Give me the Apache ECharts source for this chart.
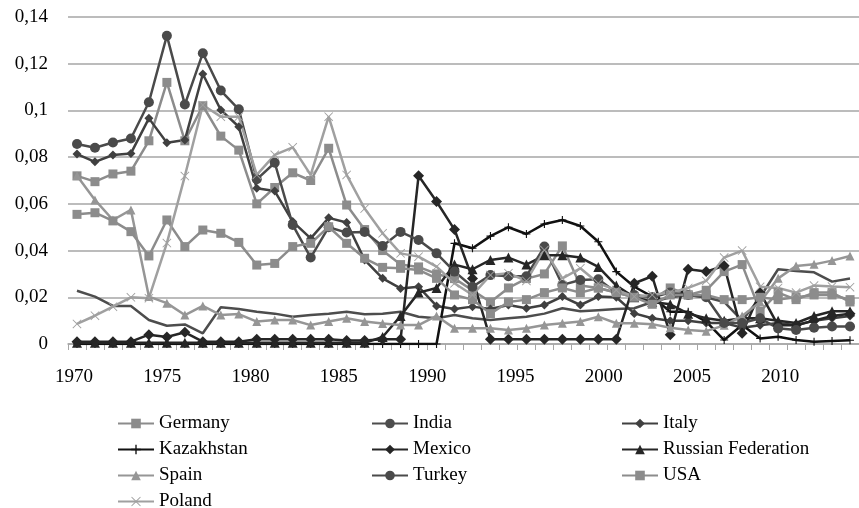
<!DOCTYPE html>
<html>
<head>
<meta charset="utf-8">
<script src="https://cdn.jsdelivr.net/npm/echarts@6/dist/echarts.min.js"></script>
<style>
  html, body { margin: 0; padding: 0; background: #fff; }
  #chart { width: 859px; height: 508px; }
</style>
</head>
<body>
<div id="chart"></div>
<script>
var years = [];
for (var y = 1970; y <= 2013; y++) years.push(String(y));
var tickYears = [1970, 1975, 1980, 1985, 1990, 1995, 2000, 2005, 2010];

var germany = [0.072,0.0695,0.0728,0.074,0.087,0.112,0.087,0.102,0.089,0.083,
  0.060,0.067,0.0733,0.070,0.0838,0.0595,0.049,0.040,0.034,0.033,
  0.030,0.028,0.023,0.018,0.024,0.028,0.030,0.042,0.025,0.024,
  0.022,0.020,0.019,0.024,0.021,0.023,0.031,0.034,0.014,
  0.022,0.019,0.022,0.022,0.018];
var usa = [0.0555,0.0562,0.0527,0.0481,0.0377,0.0531,0.0417,0.0488,0.0474,0.0435,
  0.0338,0.0345,0.0417,0.0431,0.0502,0.0431,0.0367,0.0328,0.0324,0.0317,
  0.0281,0.021,0.019,0.013,0.018,0.019,0.022,0.024,0.022,0.024,
  0.022,0.020,0.017,0.021,0.021,0.021,0.019,0.019,0.020,
  0.019,0.020,0.021,0.021,0.019];
var india = [0.0228,0.0203,0.0163,0.0163,0.0103,0.0078,0.0084,0.0046,0.0157,0.015,
  0.0138,0.013,0.0117,0.0124,0.013,0.0138,0.0127,0.013,0.0138,0.0117,
  0.011,0.0124,0.011,0.0103,0.011,0.0117,0.013,0.0153,0.014,0.0145,
  0.015,0.0153,0.018,0.020,0.021,0.020,0.018,0.010,0.020,
  0.032,0.0313,0.0307,0.0267,0.028];
var italy = [0.0813,0.078,0.0809,0.0816,0.0966,0.0862,0.0873,0.1156,0.1002,0.093,
  0.0667,0.0655,0.0524,0.0452,0.054,0.052,0.036,0.0281,0.0238,0.0245,
  0.0163,0.015,0.016,0.015,0.0167,0.0153,0.0167,0.0203,0.0167,0.0203,
  0.020,0.0131,0.011,0.010,0.010,0.009,0.009,0.007,0.008,
  0.009,0.008,0.010,0.011,0.012];
var kazakhstan = [0,0,0,0,0,0,0,0,0,0,
  0,0,0,0,0,0,0,0,0,0,
  0,0.0431,0.041,0.0462,0.050,0.0471,0.0514,0.0531,0.0505,0.0438,
  0.031,0.0245,0.0203,0.0138,0.0138,0.0096,0.0017,0.0081,0.0024,
  0.0031,0.0017,0.001,0.0013,0.0016];
var mexico = [0.001,0.001,0.001,0.001,0.004,0.003,0.005,0.001,0.001,0.001,
  0.002,0.002,0.002,0.002,0.002,0.0015,0.0015,0.002,0.002,0.072,
  0.061,0.049,0.028,0.002,0.002,0.002,0.002,0.002,0.002,0.002,
  0.002,0.026,0.029,0.004,0.032,0.031,0.0335,0.0046,0.022,
  0.008,0.008,0.010,0.012,0.013];
var russia = [0.0005,0.0005,0.0005,0.0005,0.0005,0.0005,0.0005,0.0005,0.0005,0.0005,
  0.0005,0.0005,0.0005,0.0005,0.0005,0.0005,0.0005,0.003,0.012,0.022,
  0.024,0.034,0.032,0.036,0.037,0.034,0.038,0.038,0.037,0.033,
  0.025,0.020,0.018,0.017,0.013,0.011,0.010,0.011,0.011,
  0.010,0.009,0.012,0.014,0.014];
var spain = [0.072,0.0617,0.0531,0.0574,0.0203,0.0175,0.0124,0.0163,0.0124,0.0128,
  0.0096,0.0103,0.0103,0.0081,0.0096,0.011,0.0096,0.0088,0.0081,0.0081,
  0.012,0.0067,0.0067,0.0067,0.006,0.0067,0.0081,0.0089,0.0096,0.0117,
  0.0089,0.0089,0.0085,0.007,0.006,0.0055,0.008,0.012,0.018,
  0.0281,0.0334,0.0341,0.0357,0.0377];
var turkey = [0.0856,0.084,0.0863,0.088,0.1035,0.132,0.1025,0.1245,0.1085,0.1005,
  0.0705,0.0776,0.051,0.037,0.050,0.0477,0.048,0.042,0.048,0.0445,
  0.0388,0.031,0.0245,0.0295,0.029,0.029,0.0417,0.0253,0.0274,0.0277,
  0.022,0.021,0.020,0.022,0.021,0.020,0.009,0.009,0.011,
  0.0067,0.006,0.007,0.0075,0.0075];
var poland = [0.0086,0.0121,0.016,0.020,0.0196,0.0432,0.0719,0.1023,0.0973,0.0973,
  0.0724,0.081,0.0842,0.0724,0.0973,0.0724,0.058,0.0474,0.0388,0.0374,
  0.0331,0.026,0.021,0.0295,0.0303,0.027,0.0402,0.0281,0.0324,0.026,
  0.0231,0.0203,0.021,0.022,0.024,0.027,0.037,0.040,0.0245,
  0.024,0.022,0.025,0.0246,0.0243];

var plusSym = 'path://M4.3,0H5.7V4.3H10V5.7H5.7V10H4.3V5.7H0V4.3H4.3Z';
var starSym = 'path://M0.7,0L5,4.3L9.3,0L10,0.7L5.7,5L10,9.3L9.3,10L5,5.7L0.7,10L0,9.3L4.3,5L0,0.7Z';

function line(name, data, color, symbol, size) {
  return {
    name: name,
    type: 'line',
    data: data,
    symbol: symbol,
    symbolSize: size,
    showSymbol: symbol !== 'none',
    color: color,
    lineStyle: { width: 2.5, color: color },
    itemStyle: { color: color },
    emphasis: { disabled: true }
  };
}

// one legend per entry so the three columns line up like the original
var legendPos = [
  ['Germany', 112, 409], ['India', 366, 409], ['Italy', 616, 409],
  ['Kazakhstan', 112, 435], ['Mexico', 366, 435], ['Russian Federation', 616, 435],
  ['Spain', 112, 461], ['Turkey', 366, 461], ['USA', 616, 461],
  ['Poland', 112, 487]
];
var textFont = { fontFamily: 'Liberation Serif', fontSize: 19, color: '#000' };
var legends = legendPos.map(function (p) {
  return { left: p[1], top: p[2], itemWidth: 36, itemHeight: 12, itemGap: 5,
    textStyle: textFont, data: [p[0]] };
});

// plot area: 44 yearly slots of ~18 px starting at x=68
var gridLeft = 68, gridWidth = 794;
// the year labels of the original sit on a slightly tighter scale than the points
var labelPx = 17.725, firstLabelX = 74;
var labelMin = tickYears[0] - (firstLabelX - gridLeft) / labelPx;
var labelMax = labelMin + gridWidth / labelPx;

var chart = echarts.init(document.getElementById('chart'));
chart.setOption({
  animation: false,
  grid: { left: gridLeft, top: 17, width: gridWidth, height: 327 },
  legend: legends,
  xAxis: [
    {
      type: 'category',
      data: years,
      boundaryGap: true,
      axisLine: { lineStyle: { color: '#a6a6a6', width: 1.5 } },
      axisTick: { show: true, interval: 0, length: 6, lineStyle: { color: '#a6a6a6' } },
      axisLabel: { show: false },
      splitLine: { show: false }
    },
    {
      type: 'value',
      position: 'bottom',
      min: labelMin,
      max: labelMax,
      axisLine: { show: false },
      axisTick: { show: false },
      splitLine: { show: false },
      axisLabel: {
        customValues: tickYears, margin: 24,
        fontFamily: 'Liberation Serif', fontSize: 19, color: '#000',
        formatter: function (v) { return String(Math.round(v)); }
      }
    }
  ],
  yAxis: {
    type: 'value',
    min: 0,
    max: 0.14,
    interval: 0.02,
    axisLine: { show: false },
    axisTick: { show: false },
    axisLabel: {
      margin: 20, fontFamily: 'Liberation Serif', fontSize: 19, color: '#000',
      formatter: function (v) { return String(+v.toFixed(2)).replace('.', ','); }
    },
    splitLine: { lineStyle: { color: '#a6a6a6', width: 1.5 } }
  },
  series: [
    line('Germany', germany, '#8c8c8c', 'rect', 9),
    line('India', india, '#4d4d4d', 'none', 0),
    line('Italy', italy, '#404040', 'diamond', 9),
    line('Kazakhstan', kazakhstan, '#111111', plusSym, 8),
    line('Mexico', mexico, '#262626', 'diamond', 11),
    line('Russian Federation', russia, '#262626', 'triangle', 10),
    line('Spain', spain, '#969696', 'triangle', 9),
    line('Turkey', turkey, '#4a4a4a', 'circle', 10),
    line('USA', usa, '#8c8c8c', 'rect', 9),
    line('Poland', poland, '#a0a0a0', starSym, 9)
  ]
});
</script>
</body>
</html>
